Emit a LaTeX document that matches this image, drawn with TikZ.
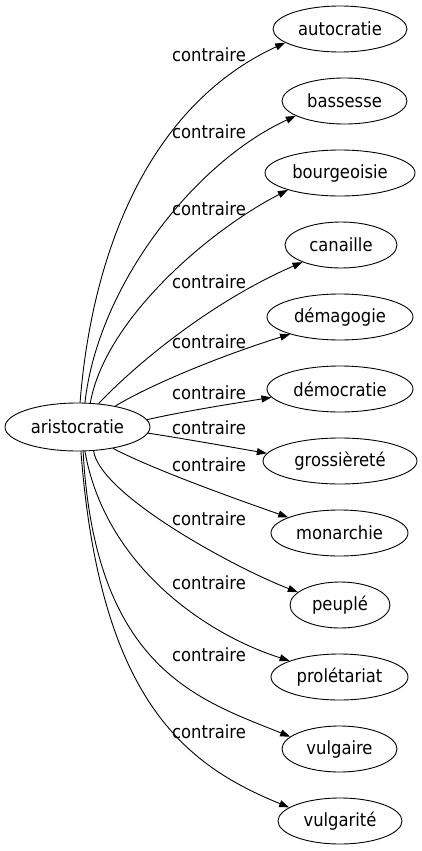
\documentclass[tikz,border=0pt]{standalone}
\usepackage{fontspec}
\setmainfont[FakeStretch=0.9]{DejaVu Sans}
\usetikzlibrary{shapes.geometric,arrows.meta}
\begin{document}
\begin{tikzpicture}[x=1pt,y=-1pt,
  word/.style={draw, ellipse, inner sep=0pt, minimum height=46pt, line width=0.9pt, font=\fontsize{18.2}{21}\selectfont},
  lab/.style={inner sep=0pt, font=\fontsize{18.2}{21}\selectfont},
  edge/.style={line width=0.9pt, -{Triangle[length=10pt,width=7pt]}}]
\useasboundingbox (0,0) rectangle (422,851);
\node[word, minimum width=145pt, minimum height=48pt] (ar) at (77.5,427) {aristocratie};
\node[word, minimum width=134pt] (n1) at (340,29) {autocratie};
\node[word, minimum width=125pt] (n2) at (344.5,101) {bassesse};
\node[word, minimum width=150pt] (n3) at (340,173) {bourgeoisie};
\node[word, minimum width=112pt] (n4) at (341,245) {canaille};
\node[word, minimum width=146pt] (n5) at (340,317) {démagogie};
\node[word, minimum width=146pt] (n6) at (340,389) {démocratie};
\node[word, minimum width=154pt] (n7) at (340,461) {grossièreté};
\node[word, minimum width=137pt] (n8) at (339.5,533) {monarchie};
\node[word, minimum width=100pt] (n9) at (340,605) {peuplé};
\node[word, minimum width=137pt] (n10) at (339.5,677) {prolétariat};
\node[word, minimum width=115pt] (n11) at (339.5,749) {vulgaire};
\node[word, minimum width=124pt] (n12) at (340,821) {vulgarité};
\node[lab] (l1) at (209,55) {contraire};
\node[lab] (l2) at (209,132) {contraire};
\node[lab] (l3) at (209,209) {contraire};
\node[lab] (l4) at (209,282) {contraire};
\node[lab] (l5) at (209,342) {contraire};
\node[lab] (l6) at (209,393) {contraire};
\node[lab] (l7) at (209,428) {contraire};
\node[lab] (l8) at (209,465) {contraire};
\node[lab] (l9) at (209,519) {contraire};
\node[lab] (l10) at (209,583) {contraire};
\node[lab] (l11) at (209,655) {contraire};
\node[lab] (l12) at (209,732) {contraire};
\draw[edge] (ar.84) .. controls (92,250) and (150,105) .. (n1.194);
\draw[edge] (ar.73) .. controls (98,285) and (195,162) .. (n2.197);
\draw[edge] (ar.62) .. controls (105,320) and (208,231) .. (n3.198);
\draw[edge] (ar.48) .. controls (140,360) and (215,300) .. (n4.204);
\draw[edge] (ar.29) .. controls (150,385) and (220,356) .. (n5.199);
\draw[edge] (ar.6) .. controls (180,412) and (230,404) .. (n6.187);
\draw[edge] (ar.355) .. controls (180,438) and (225,446) .. (n7.174);
\draw[edge] (ar.329) .. controls (150,468) and (230,497) .. (n8.163);
\draw[edge] (ar.304) .. controls (100,495) and (235,568) .. (n9.163);
\draw[edge] (ar.287) .. controls (105,565) and (205,634) .. (n10.162);
\draw[edge] (ar.283) .. controls (95,670) and (200,700) .. (n11.166);
\draw[edge] (ar.278) .. controls (100,700) and (185,765) .. (n12.165);
\end{tikzpicture}
\end{document}
